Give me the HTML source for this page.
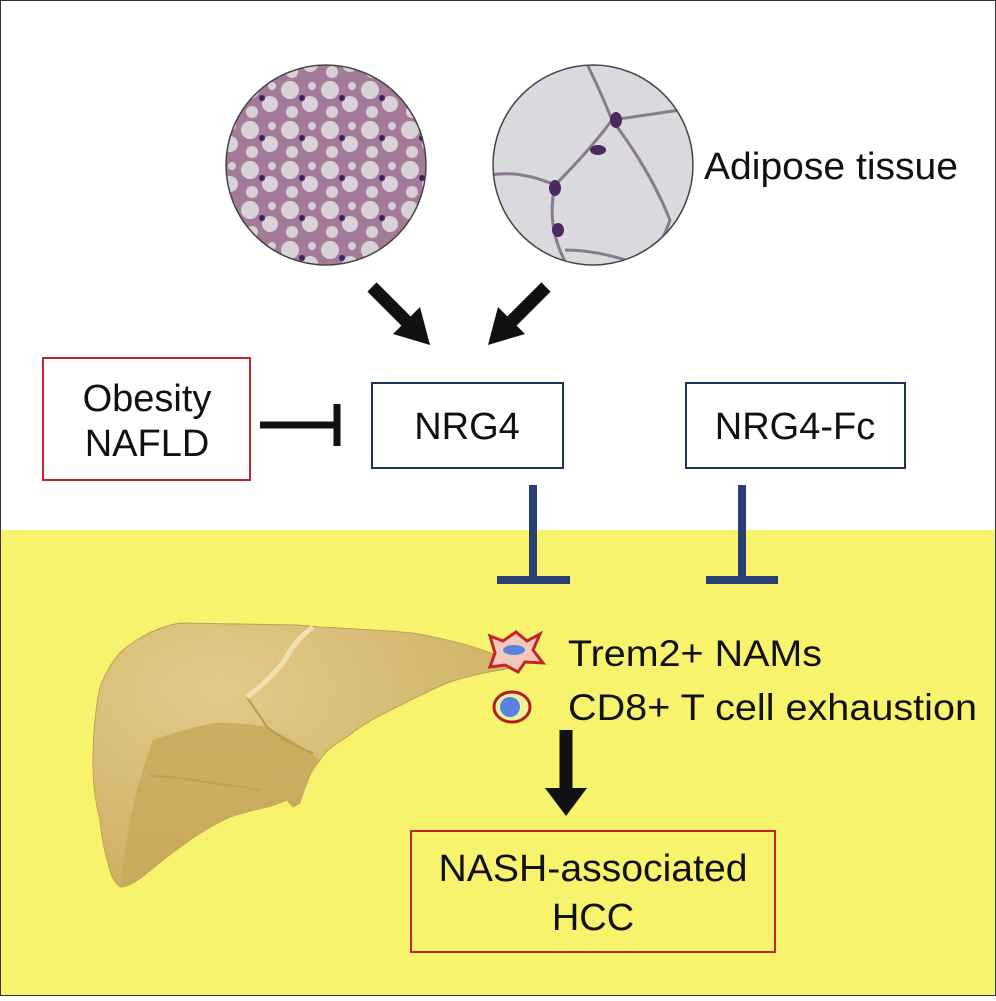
<!DOCTYPE html>
<html><head><style>
body{margin:0;width:996px;height:996px;overflow:hidden;font-family:"Liberation Sans",sans-serif;}
</style></head><body>
<svg width="996" height="996" viewBox="0 0 996 996" xmlns="http://www.w3.org/2000/svg" font-family="Liberation Sans, sans-serif">
<defs>
<radialGradient id="lv" cx="0.3" cy="0.25" r="0.8"><stop offset="0" stop-color="#e2ca88"/><stop offset="1" stop-color="#cfb064"/></radialGradient>
<pattern id="fat1" width="40" height="40" patternUnits="userSpaceOnUse">
<rect width="40" height="40" fill="#a47a9a"/>
<circle cx="10" cy="10" r="9" fill="#d8d2d8"/><circle cx="30" cy="24" r="8" fill="#d8d2d8"/><circle cx="12" cy="32" r="6" fill="#d6cfd6"/><circle cx="32" cy="6" r="4" fill="#d6cfd6"/>
<circle cx="22" cy="18" r="3" fill="#3e2060"/>
</pattern>
</defs>
<rect width="996" height="996" fill="#fff"/>
<rect x="0" y="530" width="996" height="466" fill="#f8f36c"/>
<rect x="0.5" y="0.5" width="995" height="995" fill="none" stroke="#333" stroke-width="1"/>
<circle cx="326" cy="165" r="100" fill="url(#fat1)" stroke="#444" stroke-width="1.5"/>
<g>
<clipPath id="c2"><circle cx="593" cy="165" r="100"/></clipPath>
<circle cx="593" cy="165" r="100" fill="#dad9dd"/>
<g clip-path="url(#c2)" fill="none" stroke="#8a7a90" stroke-width="3">
<path d="M585 60 Q600 90 612 120 Q590 150 555 185 Q545 230 570 270"/>
<path d="M612 120 Q650 170 670 220 Q660 250 640 270"/>
<path d="M612 120 L680 110"/><path d="M555 185 Q520 170 490 175"/>
<path d="M565 250 Q600 250 640 265"/>
</g>
<g fill="#4a2a60"><ellipse cx="616" cy="120" rx="6" ry="8"/><ellipse cx="555" cy="188" rx="6" ry="8"/><ellipse cx="598" cy="150" rx="8" ry="5"/><ellipse cx="558" cy="230" rx="6" ry="7"/></g>
<circle cx="593" cy="165" r="100" fill="none" stroke="#444" stroke-width="1.5"/>
</g>
<text x="704" y="179" font-size="38" textLength="254" lengthAdjust="spacingAndGlyphs" fill="#111">Adipose tissue</text>
<g fill="#111">
<line x1="372" y1="287" x2="412" y2="327" stroke="#111" stroke-width="13"/>
<polygon points="430,345 393,334 420,307"/>
<line x1="546" y1="287" x2="506" y2="327" stroke="#111" stroke-width="13"/>
<polygon points="488,345 498,307 525,334"/>
</g>
<rect x="43" y="358" width="207" height="122" fill="#fff" stroke="#c0262b" stroke-width="2"/>
<text x="147" y="411" font-size="38" text-anchor="middle" fill="#111">Obesity</text>
<text x="147" y="456" font-size="38" text-anchor="middle" fill="#111">NAFLD</text>
<line x1="260" y1="425" x2="336" y2="425" stroke="#111" stroke-width="7"/>
<line x1="337" y1="404" x2="337" y2="446" stroke="#111" stroke-width="7"/>
<rect x="372" y="383" width="191" height="85" fill="#fff" stroke="#1f2f5e" stroke-width="2"/>
<text x="467" y="439" font-size="38" text-anchor="middle" fill="#111">NRG4</text>
<rect x="686" y="383" width="219" height="85" fill="#fff" stroke="#1f2f5e" stroke-width="2"/>
<text x="795" y="439" font-size="38" text-anchor="middle" fill="#111">NRG4-Fc</text>
<g stroke="#2a3f72" stroke-width="8">
<line x1="533" y1="485" x2="533" y2="580"/><line x1="497" y1="580" x2="570" y2="580"/>
<line x1="742" y1="485" x2="742" y2="580"/><line x1="706" y1="580" x2="778" y2="580"/>
</g>
<path d="M123 650 Q150 628 180 623 L297 625 L320 627 Q380 630 413 633 Q480 645 513 663 Q508 670 500 670 Q470 675 447 683 Q420 695 397 707 Q365 722 347 737 Q325 750 320 760 Q310 772 307 783 Q302 795 300 803 L293 807 L287 800 Q275 805 267 807 Q245 812 230 817 Q210 826 190 840 Q165 858 147 873 Q130 887 120 887 Q112 880 110 870 Q102 845 100 820 Q92 790 93 753 Q94 715 100 687 Q110 662 123 650 Z" fill="url(#lv)" stroke="#bfa058" stroke-width="1"/>
<path d="M153 740 Q180 730 213 723 Q240 722 267 727 Q295 740 320 760 Q310 772 307 783 Q302 795 300 803 L293 807 L287 800 Q275 805 267 807 Q245 812 230 817 Q210 826 190 840 Q165 858 147 873 Q130 887 120 887 Q125 850 130 820 Q138 780 153 740 Z" fill="#c8a95c" opacity="0.85"/>
<path d="M247 697 L267 727 Q290 745 313 753" stroke="#b89a50" stroke-width="2" fill="none"/>
<path d="M247 697 Q270 680 285 660 Q295 640 313 627" stroke="#efe0b0" stroke-width="5" fill="none"/>
<path d="M150 775 Q200 780 260 790" stroke="#b89a50" stroke-width="2" fill="none" opacity="0.6"/>
<path d="M490 636 L503 641 L516 632 L527 641 L540 634 L533 650 L543 663 L525 662 L518 672 L505 665 L490 667 L495 653 Z" fill="#f4c8b8" stroke="#c0262b" stroke-width="3"/>
<ellipse cx="514" cy="650" rx="11" ry="5" fill="#5a82e0"/>
<ellipse cx="512" cy="707" rx="18" ry="15" fill="#eef29a" stroke="#b01e22" stroke-width="3"/>
<circle cx="510" cy="707" r="10" fill="#5a82e0"/>
<text x="568" y="666" font-size="37" textLength="254" lengthAdjust="spacingAndGlyphs" fill="#111">Trem2+ NAMs</text>
<text x="568" y="720" font-size="37" textLength="409" lengthAdjust="spacingAndGlyphs" fill="#111">CD8+ T cell exhaustion</text>
<line x1="566" y1="730" x2="566" y2="790" stroke="#111" stroke-width="13"/>
<polygon points="545,788 587,788 566,816" fill="#111"/>
<rect x="411" y="831" width="364" height="121" fill="none" stroke="#c0262b" stroke-width="2"/>
<text x="593" y="881" font-size="38" text-anchor="middle" textLength="309" lengthAdjust="spacingAndGlyphs" fill="#111">NASH-associated</text>
<text x="593" y="930" font-size="38" text-anchor="middle" fill="#111">HCC</text>
</svg>
</body></html>
